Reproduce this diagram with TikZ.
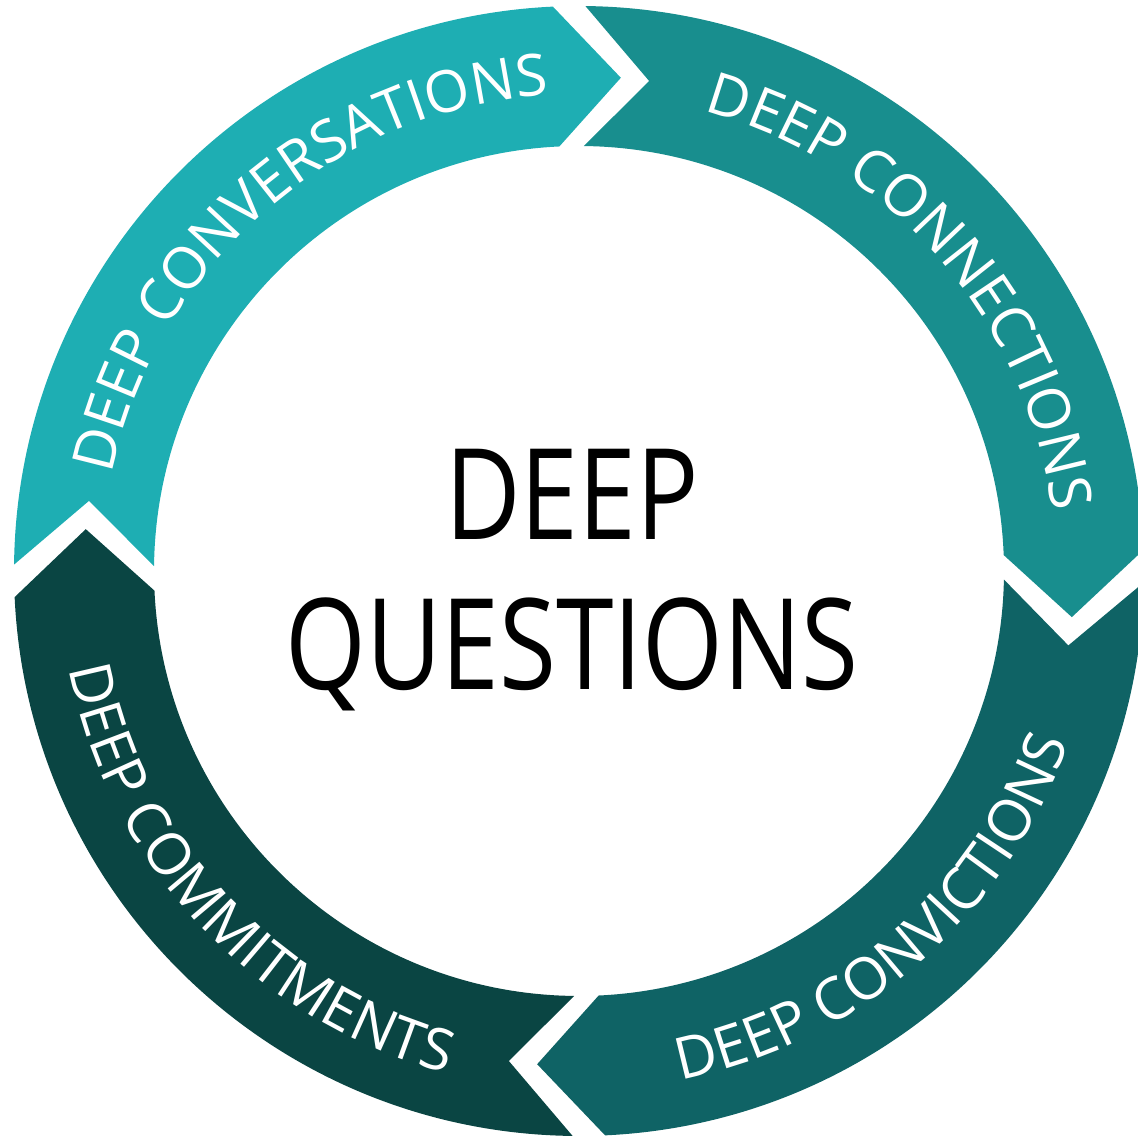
\documentclass[tikz,border=0pt]{standalone}
\usepackage{fontspec}
\setmainfont[FakeStretch=0.82]{Open Sans}
\newfontfamily\bandfam{Open Sans}
\usetikzlibrary{decorations.text}
\definecolor{conversecol}{HTML}{1EAEB3}
\definecolor{connectcol}{HTML}{188E8E}
\definecolor{convictcol}{HTML}{0F6365}
\definecolor{commitcol}{HTML}{0A4543}
\newcommand\bandfont{\bandfam\fontsize{16.5}{20}\selectfont}
\begin{document}
\begin{tikzpicture}
       \tikzstyle{bandtext}=[decorate, decoration={text effects along path, text align=center,
         text effects/.cd, text along path, characters={text=white, font=\bandfont}}]
       \tikzstyle{title}=[font=\fontsize{36}{40}\selectfont, anchor=base, inner sep=0pt]
       \clip (-5.79,-5.67) rectangle (5.59,5.71);
       \foreach \a/\b/\col in {181/91/conversecol, 91/0.5/connectcol, 0.5/-89/convictcol, -89/-179/commitcol}
        \fill[\col] ({\a-1.65}:5.65) arc[start angle={\a-1.65}, end angle={\b+1.65}, radius=5.65]
         -- ({\b+1.65-7.5}:4.95) -- ({\b+1.65}:4.25)
         arc[start angle={\b+1.65}, end angle={\a-1.65}, radius=4.25]
         -- ({\a-1.65-7.5}:4.95) -- cycle;
       \path[bandtext, decoration={text={DEEP CONVERSATIONS}}]
        (171:4.77) arc[start angle=171, end angle=91, radius=4.77];
       \path[bandtext, decoration={text={DEEP CONNECTIONS}}]
        (81:4.77) arc[start angle=81, end angle=1, radius=4.77];
       \path[bandtext, decoration={text={DEEP CONVICTIONS}}]
        (-89:5.19) arc[start angle=-89, end angle=-9, radius=5.19];
       \path[bandtext, decoration={text={DEEP COMMITMENTS}}]
        (-177:5.19) arc[start angle=-177, end angle=-97, radius=5.19];
       \node[title] (deep) at (-0.07,0.31) {DEEP};
       \node[title] (questions) at (-0.07,-1.19) {QUESTIONS};
      \end{tikzpicture}
\end{document}
